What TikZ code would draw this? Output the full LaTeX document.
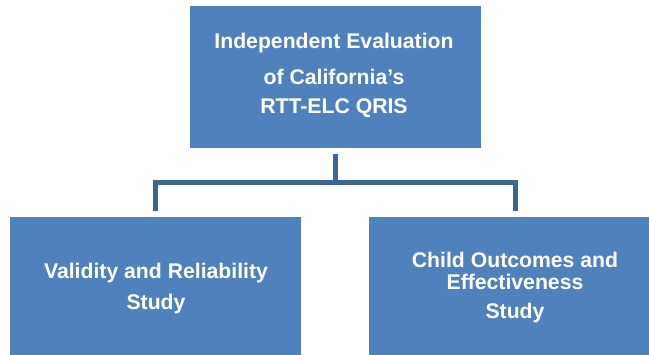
\documentclass[tikz,border=0pt]{standalone}
\usepackage{fontspec}
\setmainfont{Liberation Sans}
\definecolor{boxblue}{HTML}{4F81BD}
\definecolor{linkblue}{HTML}{3C6494}
\begin{document}
\begin{tikzpicture}[x=1pt,y=-1pt,
  box/.style={draw=none,fill=boxblue,rectangle,inner sep=0pt},
  txt/.style={anchor=base,inner sep=0pt,text=white,font=\fontsize{21.2}{25}\selectfont\bfseries},
  link/.style={draw=linkblue,line width=5pt}]
\useasboundingbox (0,0) rectangle (649,355);
\node[box,minimum width=291pt,minimum height=142.5pt] (top) at (335.5,77.25) {};
\node[box,minimum width=291pt,minimum height=140pt] (left) at (155.5,286.7) {};
\node[box,minimum width=292pt,minimum height=140pt] (right) at (515,286.7) {};
\node[txt] (t1) at (334,49) {Independent Evaluation};
\node[txt] (t2) at (334,84.3) {of California’s};
\node[txt] (t3) at (334,114) {RTT-ELC QRIS};
\node[txt] (l1) at (156,279) {Validity and Reliability};
\node[txt] (l2) at (156,310) {Study};
\node[txt] (r1) at (515,267.3) {Child Outcomes and};
\node[txt] (r2) at (515,290) {Effectiveness};
\node[txt] (r3) at (515,319) {Study};
\coordinate (j) at (335.5,183);
\coordinate (s) at ([yshift=-5.5pt]top.south);
\coordinate (a) at ([yshift=5.5pt]left.north);
\coordinate (b) at ([yshift=5.5pt]right.north);
\draw[link] (s) -- (j);
\draw[link] (a) |- (j) -| (b);
\end{tikzpicture}
\end{document}
